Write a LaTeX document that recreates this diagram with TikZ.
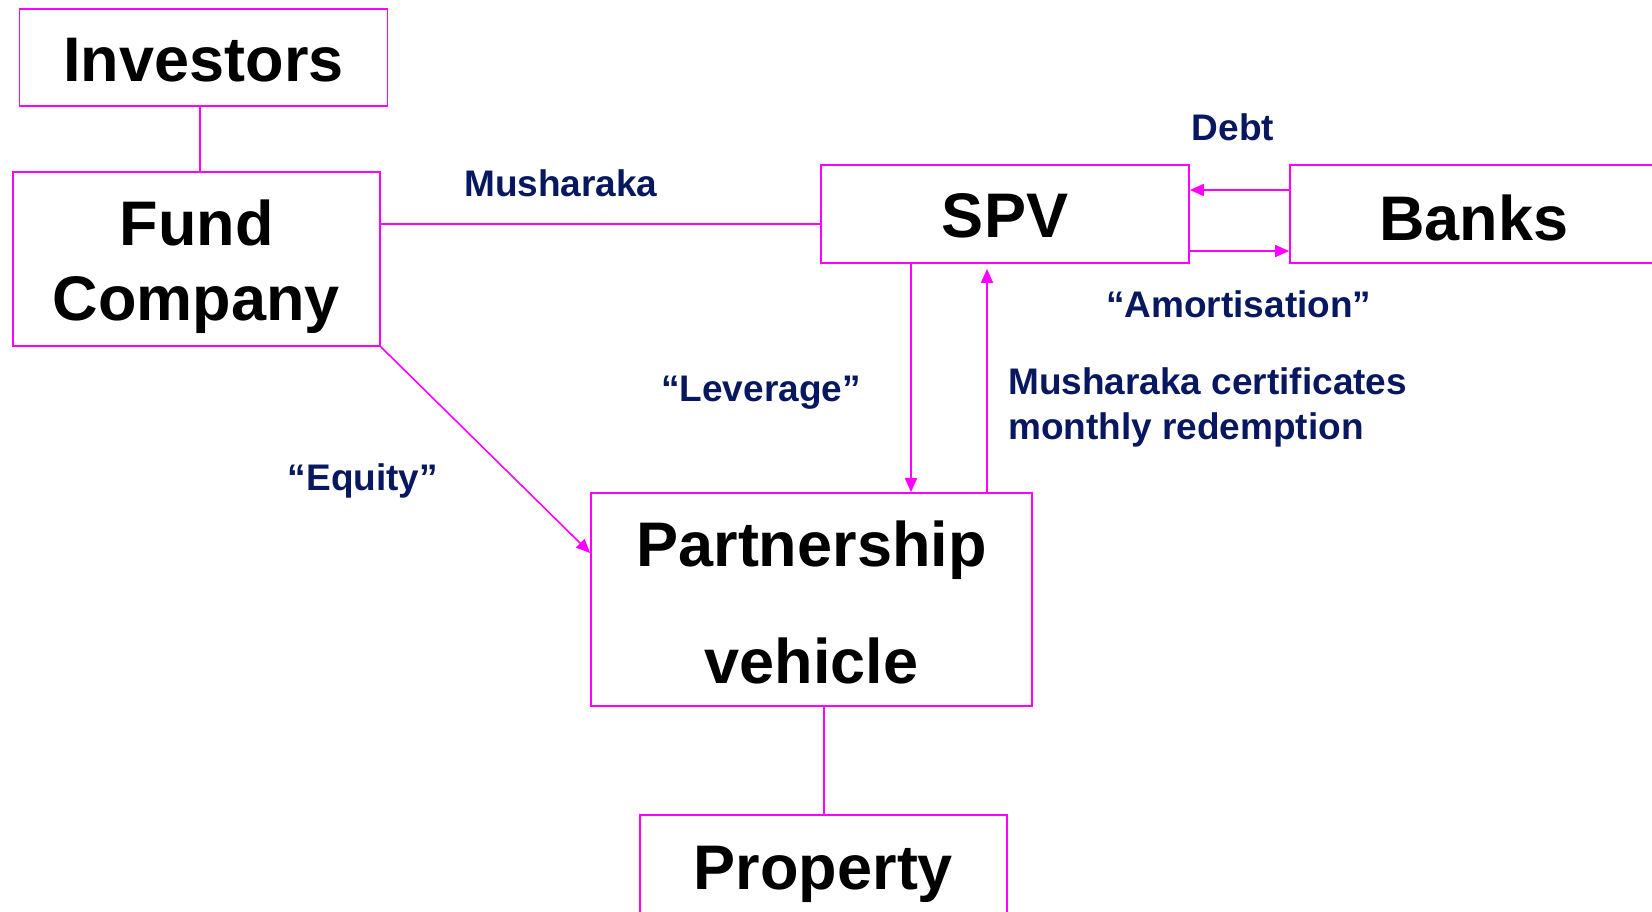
\documentclass[tikz,border=0pt]{standalone}
\usepackage{fontspec}
\setmainfont{Liberation Sans}
\usetikzlibrary{arrows.meta}
\definecolor{linkpink}{RGB}{255,0,255}
\definecolor{labelnavy}{RGB}{8,24,96}
% lower the ink of one line of a box's text by #1, keeping its box size
\newcommand\dropln[2]{\raisebox{-#1}[\height][\depth]{#2}}
\begin{document}
\begin{tikzpicture}[x=1pt,y=-1pt,
  entity/.style={draw=linkpink, line width=1.7pt, inner sep=0pt, align=center,
    font=\fontsize{63}{74}\selectfont\bfseries, text=black},
  flow/.style={draw=linkpink, line width=1.6pt},
  arr/.style={flow, -{Triangle[length=14pt,width=12pt]}},
  tag/.style={inner sep=0pt, text=labelnavy, align=left,
    font=\fontsize{37}{45}\selectfont\bfseries}]
\useasboundingbox (0,0) rectangle (1652,911);
\clip (0,0) rectangle (1652,911);

% boxes
\node[entity, minimum width=368pt, minimum height=97pt] (inv) at (203.5,57.5) {\dropln{3pt}{Investors}};
\node[entity, minimum width=367pt, minimum height=174pt] (fund) at (196.5,259) {\dropln{7pt}{Fund}\\\dropln{8pt}{Company}};
\node[entity, minimum width=368pt, minimum height=98pt] (spv) at (1005,214) {\dropln{2pt}{SPV}};
\node[entity, minimum width=368pt, minimum height=98pt] (banks) at (1474,214) {\dropln{4pt}{Banks}};
\node[entity, minimum width=441pt, minimum height=213pt] (pv) at (811.5,599.5) {\dropln{2pt}{Partnership}\\[41pt]\dropln{4pt}{vehicle}};
\node[entity, minimum width=367pt, minimum height=98pt] (prop) at (823.5,864) {\dropln{10pt}{Property}};

% connectors
\draw[flow] (inv.south -| 200,0) -- (fund.north -| 200,0);
\draw[flow] (fund.east |- 0,224) -- (spv.west |- 0,224);
\draw[arr] (fund.south east) -- (pv.west |- 0,553);
\draw[arr] (spv.south -| 911,0) -- (pv.north -| 911,0);
\draw[arr] (pv.north -| 987,0) -- ([yshift=-5pt]spv.south -| 987,0);
\draw[arr] (banks.west |- 0,190) -- (spv.east |- 0,190);
\draw[arr] (spv.east |- 0,251) -- (banks.west |- 0,251);
\draw[flow] (pv.south -| 824,0) -- (prop.north -| 824,0);

% flow labels
\node[tag, anchor=west] (lmush) at (464,183) {Musharaka};
\node[tag] (ldebt) at (1233,127) {Debt};
\node[tag, anchor=west] (lamort) at (1106,304) {“Amortisation”};
\node[tag] (llev) at (761,393) {“Leverage”};
\node[tag, anchor=north west] (lcert) at (1008,367) {Musharaka certificates\\monthly redemption};
\node[tag] (leq) at (363,481) {“Equity”};
\end{tikzpicture}
\end{document}
